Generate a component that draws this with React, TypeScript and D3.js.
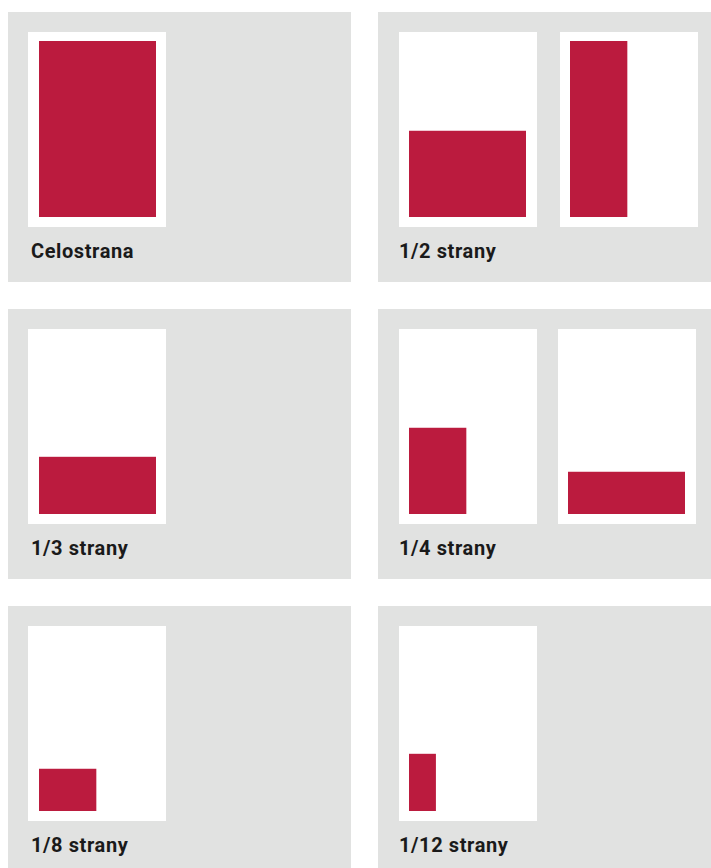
import { useEffect } from 'react';
import * as d3 from 'd3';

// Ad formats: label, and the ad blocks drawn on each page (fractions of page content area)
const labels = ['Celostrana', '1/2 strany', '1/3 strany', '1/4 strany', '1/8 strany', '1/12 strany'];
const widths: number[][] = [[1], [1, 0.49], [1], [0.49, 1], [0.49], [0.23]];
const heights: number[][] = [[1], [0.49, 1], [0.325], [0.49, 0.24], [0.24], [0.325]];

const W = 711;
const H = 868;
const RED = '#bb1b3e';
const GRAY = '#e1e2e1';

const App = () => {
  useEffect(() => {
    document.body.style.margin = '0';
  }, []);

  // panel grid
  const col = d3.scaleOrdinal<number, number>().domain([0, 1]).range([8, 378]);
  const row = d3.scaleOrdinal<number, number>().domain([0, 1, 2]).range([12, 309, 606]);
  const panelW = [343, 340];
  const panelH = 270;

  // page geometry inside a panel
  const pageW = 138;
  const pageH = 195;
  const sx = d3.scaleLinear().domain([0, 1]).range([0, 117]);
  const sy = d3.scaleLinear().domain([0, 1]).range([0, 176]);
  // x offsets of pages inside each panel
  const pageX: number[][] = [[20], [21, 182], [20], [21, 180], [20], [21]];

  return (
    <svg width={W} height={H} style={{ display: 'block' }}>
      <rect width={W} height={H} fill="#fff" />
      {labels.map((label, i) => {
        const c = i % 2;
        const r = Math.floor(i / 2);
        const px = col(c);
        const py = row(r);
        return (
          <g key={label} transform={`translate(${px},${py})`}>
            <rect width={panelW[c]} height={panelH} fill={GRAY} />
            {widths[i].map((w, j) => {
              const x0 = pageX[i][j];
              const h = heights[i][j];
              const bottom = 20 + pageH - 10;
              return (
                <g key={j}>
                  <rect x={x0} y={20} width={pageW} height={pageH} fill="#fff" />
                  <rect
                    x={x0 + (c === 0 ? 11 : 10)}
                    y={bottom - sy(h)}
                    width={sx(w)}
                    height={sy(h)}
                    fill={RED}
                  />
                </g>
              );
            })}
            <text
              x={c === 0 ? 23 : 21}
              y={246}
              fontFamily="Roboto, 'DejaVu Sans', sans-serif"
              fontWeight={700}
              fontSize={20}
              letterSpacing={0.6}
              fill="#1a1a1a"
            >
              {label}
            </text>
          </g>
        );
      })}
    </svg>
  );
};

export default App;
